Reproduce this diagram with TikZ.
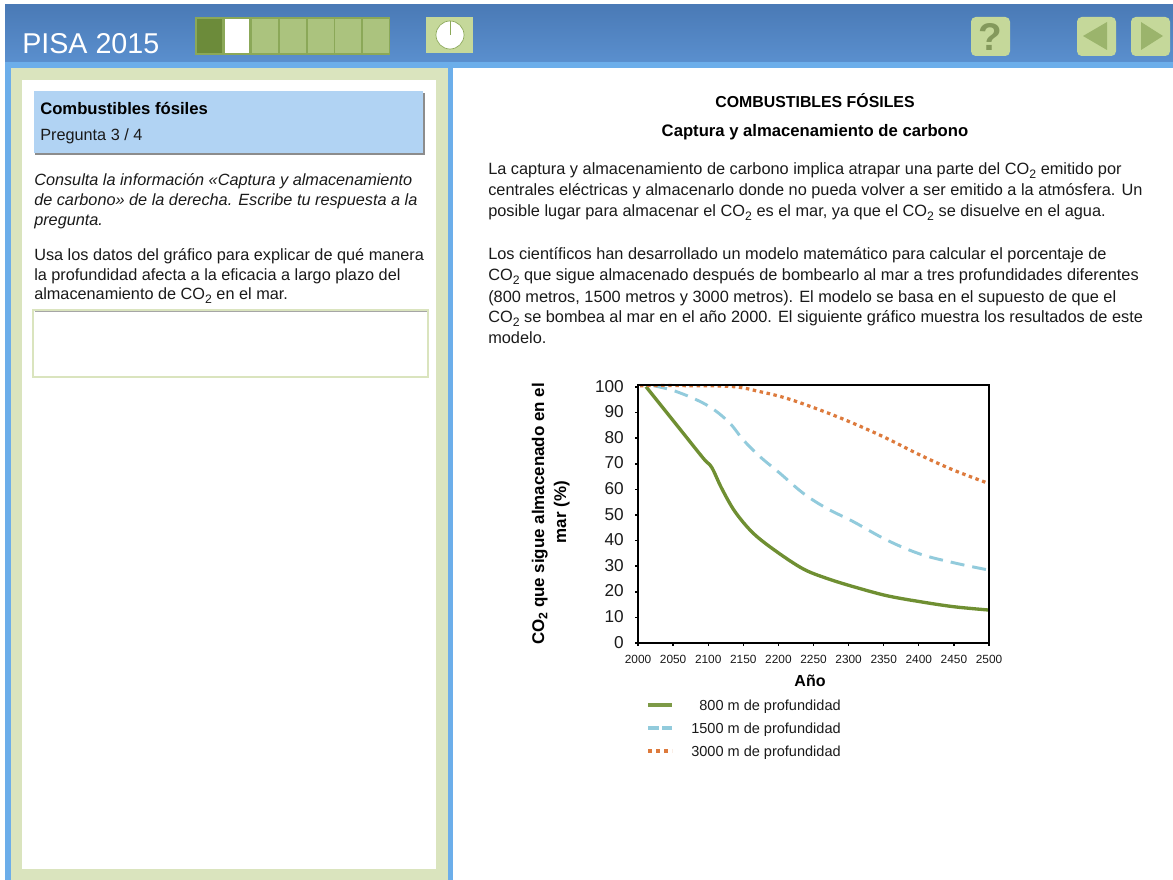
\documentclass[tikz,border=0pt]{standalone}
\usepackage{fontspec}
\setmainfont{Liberation Sans}
\newcommand{\lowtwo}{\raisebox{-0.38ex}{\fontsize{9.2}{10}\selectfont 2}}
\definecolor{hdtop}{HTML}{4A7AB6}
\definecolor{hdbot}{HTML}{5A8FCE}
\definecolor{band}{HTML}{6CAEEA}
\definecolor{pgreen}{HTML}{DAE4BE}
\definecolor{tile}{HTML}{ABC37E}
\definecolor{tileb}{HTML}{8BA858}
\definecolor{tiled}{HTML}{6C8B3A}
\definecolor{btn}{HTML}{C5D89A}
\definecolor{btnd}{HTML}{9BB46C}
\definecolor{titlebox}{HTML}{B1D3F3}
\definecolor{cgreen}{HTML}{6F8F32}
\definecolor{cblue}{HTML}{92CBDC}
\definecolor{corange}{HTML}{DD7A3C}
\definecolor{txt}{HTML}{1A1A1A}
\tikzset{
 x=0.75pt,y=-0.75pt,
 body/.style={anchor=base west,inner sep=0pt,text=txt,font=\fontsize{12.25}{14}\selectfont},
 left body/.style={body,font=\fontsize{12.2}{14}\selectfont},
 bodyi/.style={body,font=\fontsize{12.2}{14}\selectfont\itshape},
 head/.style={anchor=base,inner sep=0pt,text=black,font=\fontsize{11.9}{14}\selectfont\bfseries},
 subhead/.style={anchor=base,inner sep=0pt,text=black,font=\fontsize{12.5}{14}\selectfont\bfseries},
 ytick/.style={anchor=base east,inner sep=0pt,text=txt,font=\fontsize{12.9}{14}\selectfont},
 xtick/.style={anchor=base,inner sep=0pt,text=txt,font=\fontsize{8.9}{10}\selectfont},
 legend/.style={anchor=base east,inner sep=0pt,text=txt,font=\fontsize{10.9}{12}\selectfont},
 axlabel/.style={anchor=base,inner sep=0pt,text=black,font=\fontsize{12.7}{14}\selectfont\bfseries},
 navbtn/.style={fill=btn,rounded corners=3.5pt},
 greenline/.style={draw=cgreen,line width=2.5pt},
 blueline/.style={draw=cblue,line width=2.2pt,dash pattern=on 10.5pt off 6pt},
 orangeline/.style={draw=corange,line width=2.4pt,dash pattern=on 2.6pt off 2.7pt},
}
\begin{document}
\begin{tikzpicture}
\useasboundingbox (0,0) rectangle (1173,880);
\fill[white] (0,0) rectangle (1173,880);
% header
\shade[top color=hdtop,bottom color=hdbot] (5,5) rectangle (1173,62);
\fill[band] (5,62) rectangle (1173,68);
% left panel
\fill[band] (5,68) rectangle (453,880);
\fill[pgreen] (11,68) rectangle (448,880);
\fill[white] (22,80) rectangle (436,869);
\node[anchor=base west,inner sep=0pt,text=white,font=\fontsize{21.5}{24}\selectfont] (pisa) at (22,54) {PISA 2015};
% progress tiles
\fill[tileb] (195,17) rectangle (390,55);
\foreach \x/\w/\c in {197/25/tiled,225/24/white,252/26/tile,280/26/tile,308/26/tile,335/26/tile,363/26/tile}
  \fill[\c] (\x,19) rectangle ++(\w,34);
% clock
\fill[btn] (426,17) rectangle (473,53);
\fill[white,draw=tileb,line width=.5pt] (450,35) circle (14);
\draw[tileb,line width=.6pt] (450,35) -- (450,21);
% buttons
\fill[navbtn] (971,17) rectangle (1010,56);
\node[inner sep=0pt,text=btnd!85!black,font=\fontsize{29}{30}\selectfont\bfseries] (help) at (990,37) {?};
\fill[navbtn] (1077,17) rectangle (1116,56);
\fill[btnd] (1083,36) -- (1107,22) -- (1107,50) -- cycle;
\fill[navbtn] (1131,17) rectangle (1170,56);
\fill[btnd] (1163,36) -- (1141,22) -- (1141,50) -- cycle;
% title box
\fill[black!45] (35,93) rectangle (425,155);
\fill[titlebox] (34,91) rectangle (423,153);
\node[anchor=base west,inner sep=0pt,text=black,font=\fontsize{12.5}{14}\selectfont\bfseries] (tt) at (40,115) {Combustibles fósiles};
\node[left body] (preg) at (40,141) {Pregunta 3 / 4};
% left text
\node[bodyi] (l1) at (34,185.500) {Consulta la información «Captura y almacenamiento};
\node[bodyi] (l2) at (34,205.500) {de carbono» de la derecha. Escribe tu respuesta a la};
\node[bodyi] (l3) at (34,225.500) {pregunta.};
\node[left body] (l4) at (34,261) {Usa los datos del gráfico para explicar de qué manera};
\node[left body] (l5) at (34,281) {la profundidad afecta a la eficacia a largo plazo del};
\node[left body] (l6) at (34,300) {almacenamiento de CO\lowtwo{} en el mar.};
% answer box
\draw[fill=white,draw=pgreen,line width=2pt] (33,310) rectangle (428,377);
\draw[draw=black!35,line width=.5pt] (34.500,311) -- (426.500,311);
% right text
\node[head] (h1) at (815,107.500) {COMBUSTIBLES FÓSILES};
\node[subhead] (h2) at (815,136.500) {Captura y almacenamiento de carbono};
\node[body] (r1) at (488,175) {La captura y almacenamiento de carbono implica atrapar una parte del CO\lowtwo{} emitido por};
\node[body] (r2) at (488,196) {centrales eléctricas y almacenarlo donde no pueda volver a ser emitido a la atmósfera. Un};
\node[body] (r3) at (488,217) {posible lugar para almacenar el CO\lowtwo{} es el mar, ya que el CO\lowtwo{} se disuelve en el agua.};
\node[body] (r4) at (488,260) {Los científicos han desarrollado un modelo matemático para calcular el porcentaje de};
\node[body] (r5) at (488,281) {CO\lowtwo{} que sigue almacenado después de bombearlo al mar a tres profundidades diferentes};
\node[body] (r6) at (488,302) {(800 metros, 1500 metros y 3000 metros). El modelo se basa en el supuesto de que el};
\node[body] (r7) at (488,323) {CO\lowtwo{} se bombea al mar en el año 2000. El siguiente gráfico muestra los resultados de este};
\node[body] (r8) at (488,344) {modelo.};
% chart curves (coordinates in 1/3 px from the chart corner)
\begin{scope}[shift={(520,370)},x=0.25pt,y=-0.25pt]
 \draw[greenline,smooth,tension=.55] plot coordinates {(378,50) (470,165) (550,265) (575,292) (605,355) (645,425) (700,490) (770,545) (850,597) (920,625) (1000,650) (1100,677) (1200,695) (1300,710) (1405,720)};
 \draw[blueline,smooth,tension=.6] plot coordinates {(400,47) (470,65) (560,105) (625,155) (670,210) (720,260) (780,310) (850,370) (920,415) (1000,455) (1100,510) (1200,552) (1300,578) (1405,600)};
 \draw[orangeline,smooth,tension=.6] plot coordinates {(360,47) (500,47) (640,50) (720,65) (800,85) (900,120) (1000,160) (1100,205) (1200,255) (1300,300) (1405,340)};
\end{scope}
% frame and ticks
\draw[black,line width=2.1pt] (638,385) rectangle (989,643);
\foreach \v in {0,10,...,100} {
  \draw[black,line width=1.2pt] (635,{643-2.56*\v}) -- (638,{643-2.56*\v});
  \node[ytick] at (624,{648-2.56*\v}) {\v};
}
\foreach \y in {2000,2050,...,2500} {
  \draw[black,line width=1pt] ({638+0.702*(\y-2000)},643) -- ({638+0.702*(\y-2000)},646);
  \node[xtick] at ({638+0.702*(\y-2000)},663) {\y};
}
\node[axlabel,font=\fontsize{12}{14}\selectfont\bfseries] (xl) at (810,686) {Año};
\node[axlabel,rotate=90] (yl1) at (544,514) {CO\lowtwo{} que sigue almacenado en el};
\node[axlabel,rotate=90] (yl2) at (566,512) {mar (\%)};
% legend
\coordinate (a1) at (648,705); \coordinate (a2) at (672,705);
\coordinate (b1) at (648,728); \coordinate (b2) at (672,728);
\coordinate (c1) at (648,751); \coordinate (c2) at (672,751);
\draw[draw=cgreen!90!white,line width=2.8pt] (a1) -- (a2);
\draw[draw=cblue,line width=2.4pt,dash pattern=on 8pt off 2.5pt] (b1) -- (b2);
\draw[draw=corange,line width=2.4pt,dash pattern=on 3pt off 3pt] (c1) -- (c2);
\node[legend] (la) at (841,710) {800 m de profundidad};
\node[legend] (lb) at (841,733) {1500 m de profundidad};
\node[legend] (lc) at (841,756) {3000 m de profundidad};
\end{tikzpicture}
\end{document}
